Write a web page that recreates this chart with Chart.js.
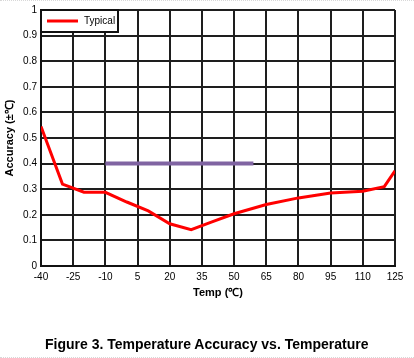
<!DOCTYPE html>
<html>
<head>
<meta charset="utf-8">
<script src="https://cdn.jsdelivr.net/npm/chart.js@4/dist/chart.umd.min.js"></script>
<style>
  html, body { margin: 0; padding: 0; background: #fff; }
  #wrap { position: relative; width: 414px; height: 358px; overflow: hidden; }
  #c { position: absolute; left: 0; top: 0; }
  #caption { position: absolute; left: 45px; top: 336px; font: bold 14px "Liberation Sans", Arial, sans-serif; line-height: 16px; color: #000; white-space: nowrap; }
  #topdots { position: absolute; left: 0; top: 0; width: 414px; border-top: 1px dotted #d8d8d8; }
  #botdots { position: absolute; left: 0; top: 357px; width: 414px; border-top: 1px dotted #d8d8d8; }
</style>
</head>
<body>
<div id="wrap">
  <canvas id="c" width="414" height="358"></canvas>
  <div id="topdots"></div>
  <div id="botdots"></div>
  <div id="caption">Figure 3. Temperature Accuracy vs. Temperature</div>
</div>
<script>
const temps = [-40, -30, -20, -10, 0, 10, 20, 30, 40, 50, 65, 80, 95, 110, 120, 125];
const accuracy = [0.545, 0.32, 0.288, 0.288, 0.25, 0.215, 0.165, 0.142, 0.173, 0.204, 0.24, 0.266, 0.285, 0.292, 0.31, 0.372];
const specTemps = [-10, 59];
const specValues = [0.4, 0.4];
const xTicks = [-40, -25, -10, 5, 20, 35, 50, 65, 80, 95, 110, 125];
const yTicks = [0, 0.1, 0.2, 0.3, 0.4, 0.5, 0.6, 0.7, 0.8, 0.9, 1];
const seriesLabel = 'Typical';

const FONT = '"Liberation Sans", Arial, sans-serif';

const insideLegend = {
  id: 'insideLegend',
  afterDatasetsDraw(chart) {
    const ctx = chart.ctx, a = chart.chartArea;
    const ds = chart.data.datasets[0];
    ctx.save();
    const x = a.left, y = a.top, w = 77, h = 22;
    ctx.fillStyle = '#fff';
    ctx.fillRect(x, y, w, h);
    ctx.strokeStyle = '#111';
    ctx.lineWidth = 2;
    ctx.strokeRect(x, y, w, h);
    ctx.strokeStyle = ds.borderColor;
    ctx.lineWidth = 3;
    ctx.beginPath();
    ctx.moveTo(x + 6, y + 11);
    ctx.lineTo(x + 37, y + 11);
    ctx.stroke();
    ctx.fillStyle = '#000';
    ctx.font = '10px ' + FONT;
    ctx.textBaseline = 'middle';
    ctx.fillText(ds.label, x + 43, y + 11);
    ctx.restore();
  }
};

new Chart(document.getElementById('c'), {
  type: 'line',
  data: {
    datasets: [
      {
        label: seriesLabel,
        data: temps.map((t, i) => ({ x: t, y: accuracy[i] })),
        borderColor: '#ff0000',
        borderWidth: 3,
        pointRadius: 0,
        tension: 0,
        order: 1
      },
      {
        label: 'spec',
        data: specTemps.map((t, i) => ({ x: t, y: specValues[i] })),
        borderColor: '#8064a2',
        borderWidth: 4,
        pointRadius: 0,
        tension: 0,
        order: 2
      }
    ]
  },
  options: {
    responsive: false,
    animation: false,
    devicePixelRatio: 1,
    layout: { padding: { left: 0, top: 8, right: 19, bottom: 58 } },
    plugins: { legend: { display: false }, tooltip: { enabled: false } },
    scales: {
      x: {
        type: 'linear',
        min: -40, max: 125,
        afterBuildTicks: s => { s.ticks = xTicks.map(v => ({ value: v })); },
        afterFit: s => { s.height = 34; },
        ticks: { color: '#000', font: { family: FONT, size: 10 }, padding: 5, maxRotation: 0, autoSkip: false, callback: v => String(v) },
        grid: { color: '#1e1e1e', lineWidth: 2, drawTicks: false },
        border: { color: '#111', width: 2 },
        title: { display: true, text: 'Temp (℃)', color: '#000', font: { family: FONT, size: 11, weight: 'bold' }, padding: { top: 2, bottom: 0 } }
      },
      y: {
        type: 'linear',
        min: 0, max: 1,
        afterBuildTicks: s => { s.ticks = yTicks.map(v => ({ value: v })); },
        afterFit: s => { s.width = 41; },
        ticks: { color: '#000', font: { family: FONT, size: 10 }, padding: 4, callback: v => String(v) },
        grid: { color: '#1e1e1e', lineWidth: 2, drawTicks: false },
        border: { color: '#111', width: 2 },
        title: { display: true, text: 'Accuracy (±℃)', color: '#000', font: { family: FONT, size: 11, weight: 'bold' }, padding: { top: 3, bottom: 0 } }
      }
    }
  },
  plugins: [insideLegend]
});
</script>
</body>
</html>
